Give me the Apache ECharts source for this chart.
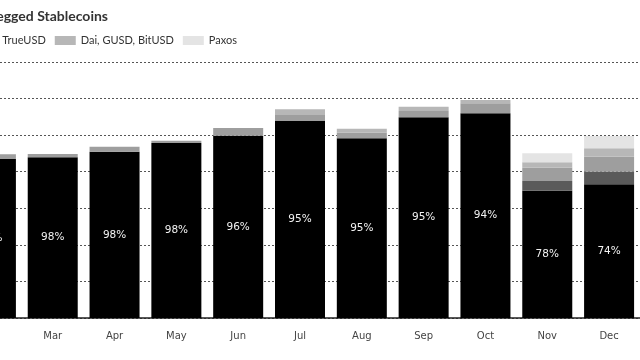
<!DOCTYPE html>
<html>
<head>
<meta charset="utf-8">
<script src="https://cdn.jsdelivr.net/npm/echarts@6/dist/echarts.min.js"></script>
<style>
html,body{margin:0;padding:0;background:#fff;overflow:hidden;}
#c{width:840px;height:360px;margin-left:-200px;}
</style>
</head>
<body>
<div id="c"></div>
<script>
// Market cap, billions USD
var months = ["Feb","Mar","Apr","May","Jun","Jul","Aug","Sep","Oct","Nov","Dec"];
var tether   = [2.174, 2.197, 2.274, 2.393, 2.493, 2.693, 2.457, 2.744, 2.799, 1.740, 1.828];
var usdCoin  = [0, 0, 0, 0, 0, 0, 0, 0, 0, 0.133, 0.172];
var trueUSD  = [0.064, 0.045, 0.068, 0.031, 0.105, 0.082, 0.080, 0.086, 0.137, 0.182, 0.205];
var daiGroup = [0, 0, 0, 0, 0, 0.078, 0.051, 0.059, 0.045, 0.074, 0.115];
var paxos    = [0, 0, 0, 0, 0, 0, 0, 0, 0, 0.123, 0.168];
var tetherShare = [97, 98, 98, 98, 96, 95, 95, 95, 94, 78, 74];
var yTicks = {min: 0, max: 3.5, interval: 0.5};

var chart = echarts.init(document.getElementById('c'), null, {renderer: 'canvas'});
function bar(name, data, color, withLabel) {
  var s = {
    name: name, type: 'bar', stack: 'total', data: data, barWidth: 50,
    itemStyle: {color: color}, emphasis: {disabled: true}
  };
  if (withLabel) {
    s.label = {
      show: true, position: 'inside', color: '#f2f2f2',
      fontFamily: 'DejaVu Sans', fontSize: 10.5,
      formatter: function (p) { return tetherShare[p.dataIndex] + '%'; }
    };
  }
  return s;
}
chart.setOption({
  animation: false,
  title: {
    text: 'Dollar-Pegged Stablecoins', right: 527, top: 4,
    textStyle: {fontFamily: 'Lato', fontWeight: 'bold', fontSize: 14, color: '#333'}
  },
  legend: {
    left: 28, top: 35, padding: 0, itemWidth: 21, itemHeight: 9, itemGap: 9,
    icon: 'rect',
    textStyle: {fontFamily: 'Lato', fontSize: 11, color: '#333'},
    data: ['Tether', 'USD Coin', 'TrueUSD', 'Dai, GUSD, BitUSD', 'Paxos']
  },
  grid: {left: 160, right: 0, top: 62, bottom: 42},
  xAxis: {
    type: 'category', data: months,
    axisLine: {lineStyle: {color: '#222', width: 1.5}},
    axisTick: {show: false},
    axisLabel: {color: '#444', fontFamily: 'DejaVu Sans', fontSize: 10, margin: 13}
  },
  yAxis: {
    type: 'value', min: yTicks.min, max: yTicks.max, interval: yTicks.interval,
    axisLabel: {show: false}, axisLine: {show: false}, axisTick: {show: false},
    splitLine: {lineStyle: {color: '#555', type: [2, 2], width: 1}}
  },
  series: [
    bar('Tether', tether, '#000000', true),
    bar('USD Coin', usdCoin, '#5a5a5a'),
    bar('TrueUSD', trueUSD, '#9e9e9e'),
    bar('Dai, GUSD, BitUSD', daiGroup, '#b7b7b7'),
    bar('Paxos', paxos, '#e4e4e4')
  ]
});
</script>
</body>
</html>
